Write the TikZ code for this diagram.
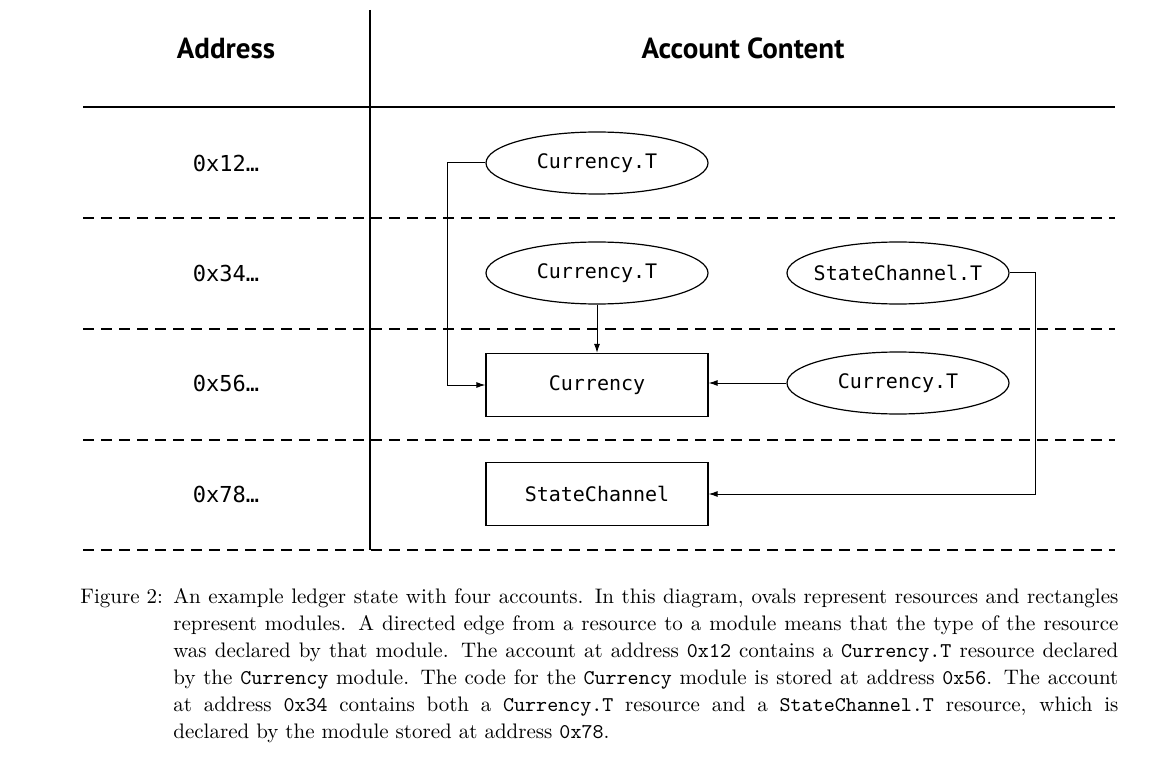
\documentclass[tikz,border=0pt]{standalone}
\usepackage{fontspec}
\usetikzlibrary{arrows.meta,shapes.geometric}
\newfontfamily\dmono{DejaVu Sans Mono}
\newfontfamily\hdfont{PT Sans}
\newcommand{\rtxt}[1]{\makebox[0pt]{#1}}
\begin{document}
\begin{tikzpicture}[x=0.5pt,y=-0.5pt,
  res/.style={draw,ellipse,line width=0.6pt,minimum width=111pt,minimum height=31pt,inner sep=0pt,font=\dmono\fontsize{10}{12}\selectfont},
  mod/.style={draw,rectangle,line width=0.6pt,minimum width=111pt,minimum height=31.5pt,inner sep=0pt,font=\dmono\fontsize{10}{12}\selectfont},
  addr/.style={font=\dmono\fontsize{11}{13}\selectfont,inner sep=0pt},
  head/.style={font=\hdfont\bfseries\fontsize{14.5}{16}\selectfont,inner sep=0pt},
  conn/.style={line width=0.5pt,-{Latex[length=4.5pt,width=3pt]}},
  rowline/.style={line width=0.6pt,dash pattern=on 5.5pt off 3.5pt},
  capline/.style={anchor=base west,inner sep=0pt,font=\fontsize{10.5}{13.5}\selectfont}]
\useasboundingbox (0,0) rectangle (1172,775);
% grid
\draw[line width=0.6pt] (370,10) -- (370,550);
\draw[line width=0.6pt] (83,107) -- (1115,107);
\foreach \yy in {218,329,440,550} \draw[rowline] (83,\yy) -- (1115,\yy);
% headers
\node[head] (hA) at (226,48) {Address};
\node[head] (hC) at (743,48) {Account Content};
% addresses
\node[addr] (a1) at (226,163) {0x12…};
\node[addr] (a2) at (226,273) {0x34…};
\node[addr] (a3) at (226,383) {0x56…};
\node[addr] (a4) at (226,494) {0x78…};
% resources and modules
\node[res] (c1) at (597,163) {\rtxt{Currency.T}};
\node[res] (c2) at (597,273) {\rtxt{Currency.T}};
\node[res] (sc) at (898,273) {\rtxt{StateChannel.T}};
\node[mod] (cur) at (597,385) {Currency};
\node[res] (c3) at (898,383) {\rtxt{Currency.T}};
\node[mod] (scm) at (597,494) {StateChannel};
% connectors
\draw[conn] (c1.west) -- ++(-38,0) |- (cur.west);
\draw[conn] (c2.south) -- (cur.north);
\draw[conn] (c3.west) -- (cur.east |- c3.west);
\draw[conn] (sc.east) -- ++(26,0) |- (scm.east);
% caption
\node[capline] (f2) at (80,603) {Figure 2:};
\node[capline] (cap1) at (173,603) {\makebox[472.5pt][s]{An example ledger state with four accounts. In this diagram, ovals represent resources and rectangles}};
\node[capline] (cap2) at (173,630) {\makebox[472.5pt][s]{represent modules. A directed edge from a resource to a module means that the type of the resource}};
\node[capline] (cap3) at (173,657) {\makebox[472.5pt][s]{was declared by that module. The account at address \texttt{0x12} contains a \texttt{Currency.T} resource declared}};
\node[capline] (cap4) at (173,684) {\makebox[472.5pt][s]{by the \texttt{Currency} module. The code for the \texttt{Currency} module is stored at address \texttt{0x56}. The account}};
\node[capline] (cap5) at (173,711) {\makebox[472.5pt][s]{at address \texttt{0x34} contains both a \texttt{Currency.T} resource and a \texttt{StateChannel.T} resource, which is}};
\node[capline] (cap6) at (173,738) {declared by the module stored at address \texttt{0x78}.};
\end{tikzpicture}
\end{document}
